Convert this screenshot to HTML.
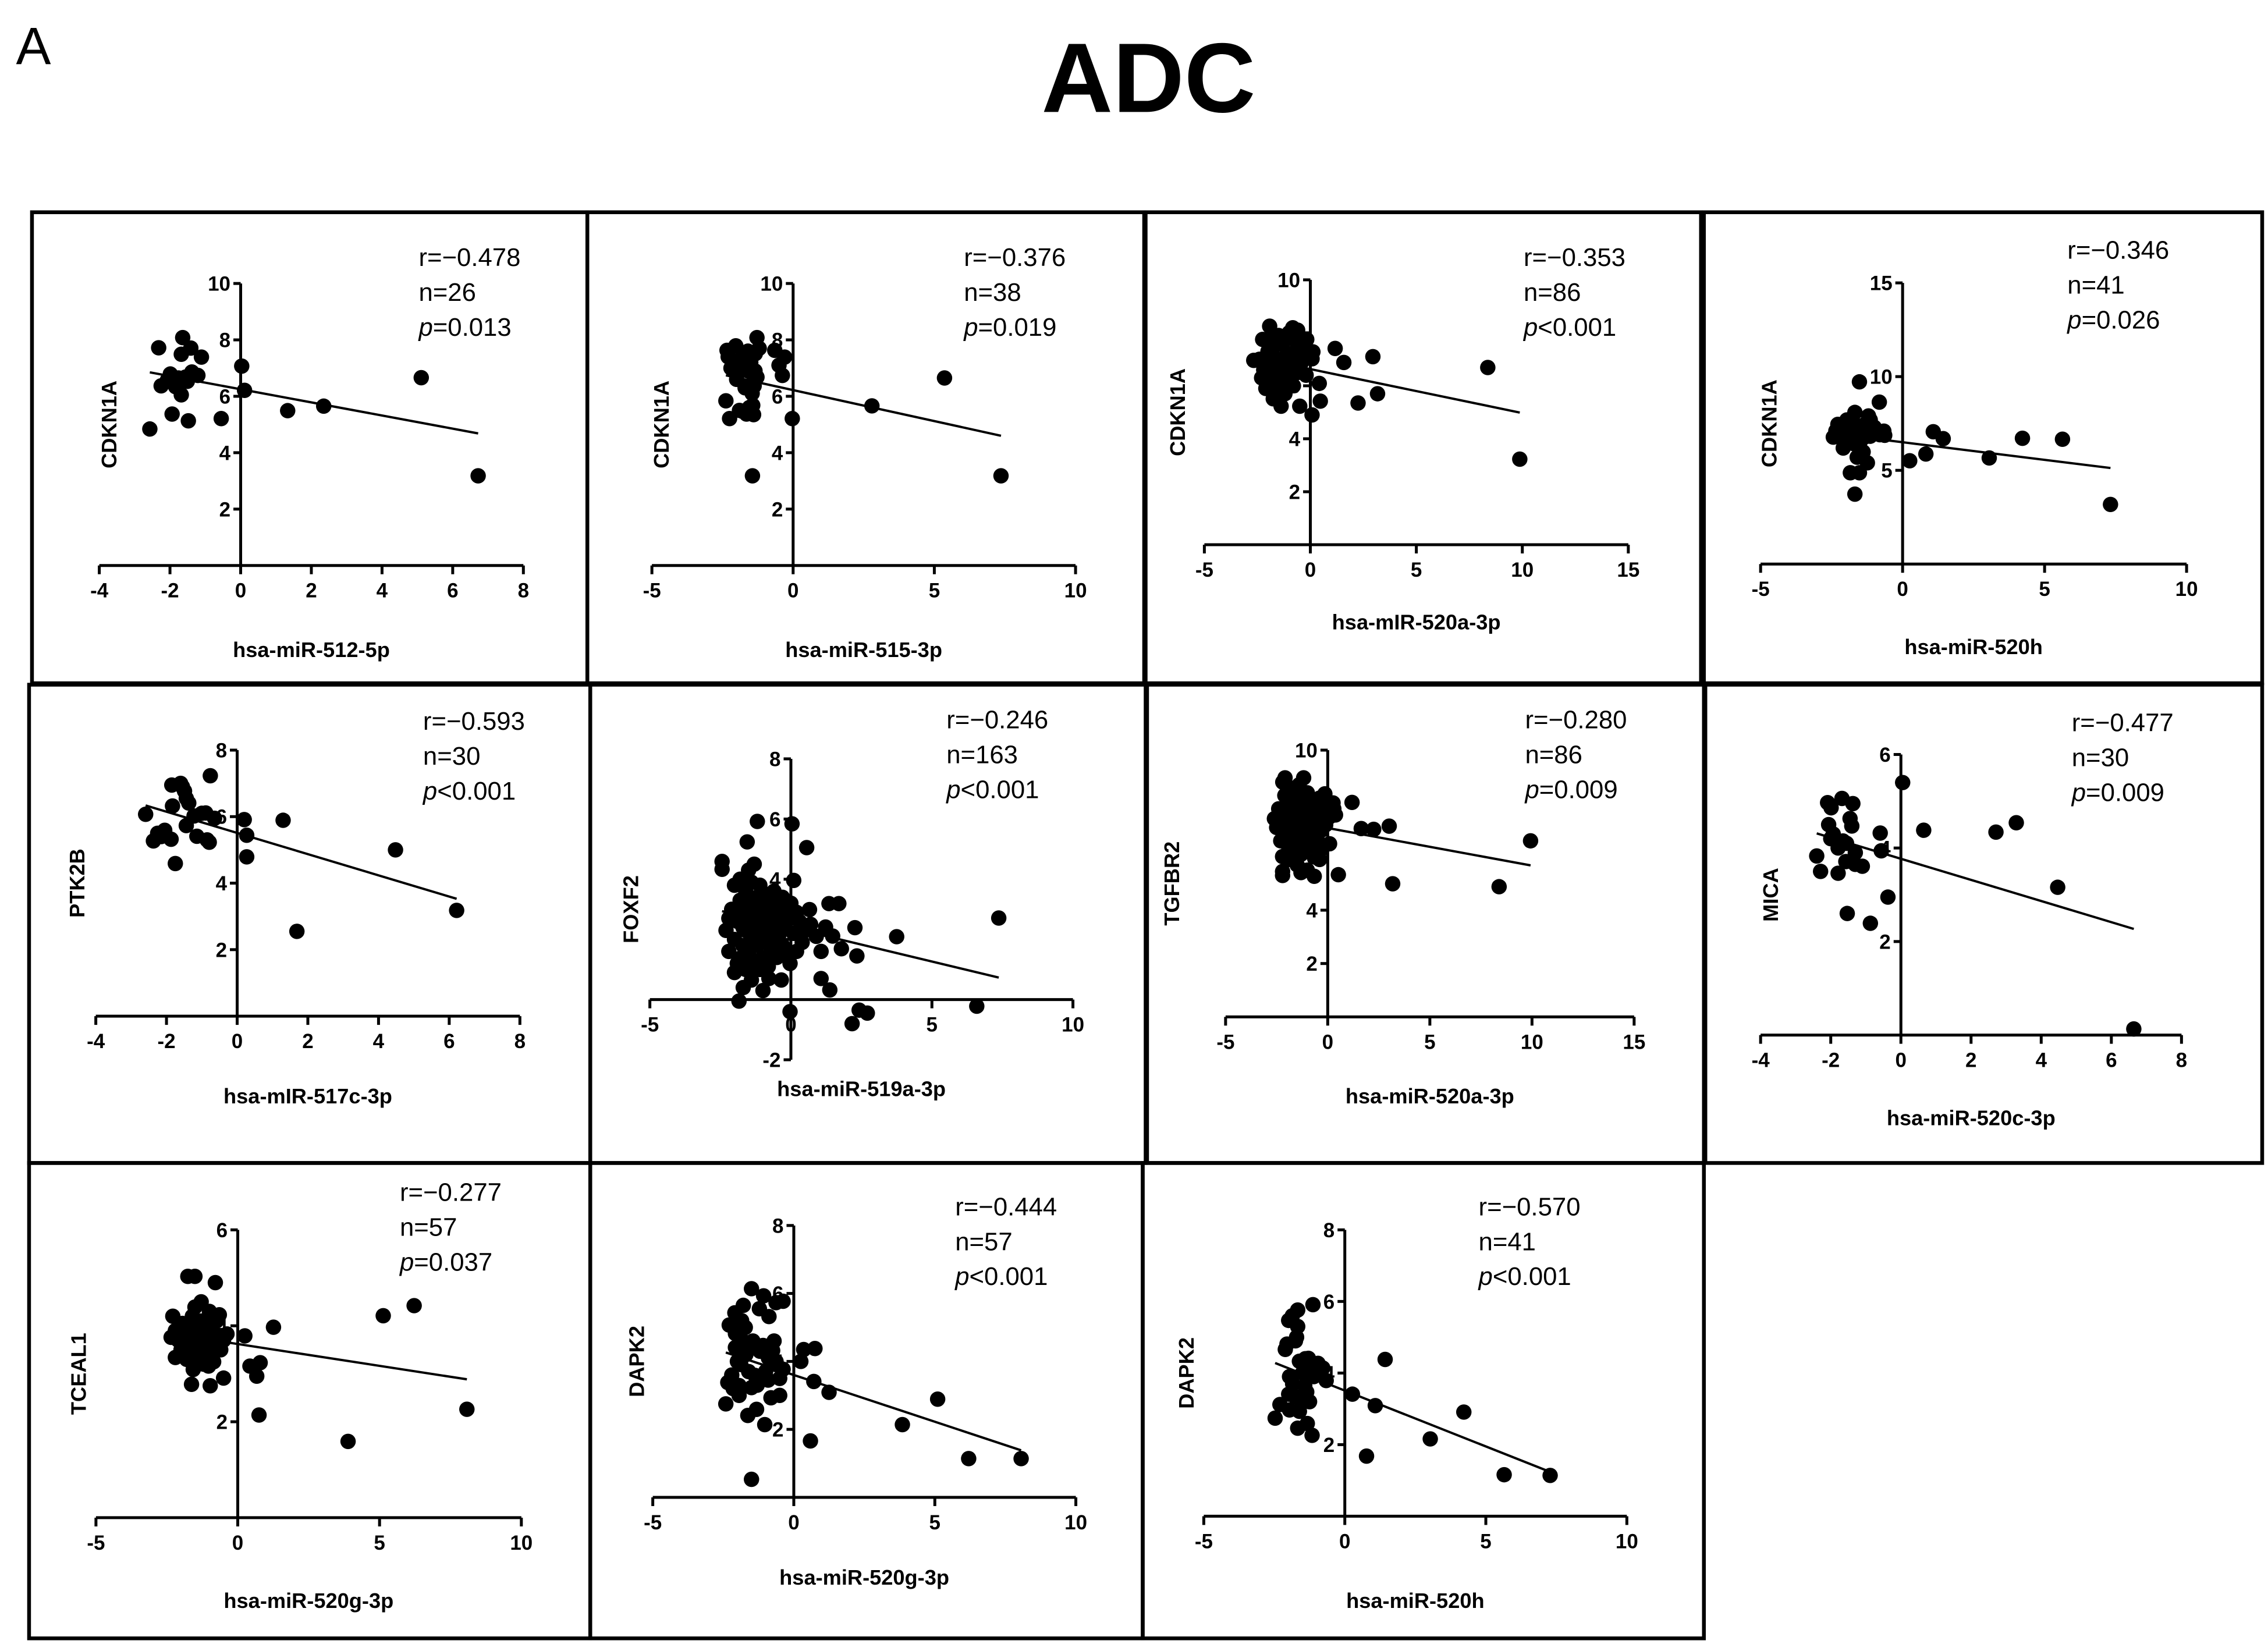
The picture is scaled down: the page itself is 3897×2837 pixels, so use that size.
<!DOCTYPE html>
<html>
<head>
<meta charset="utf-8">
<style>
html,body{margin:0;padding:0;background:#fff;}
svg{display:block;}
text{font-family:"Liberation Sans",Arial,sans-serif;}
.tick{font-weight:bold;font-size:14px;}
.ttl{font-weight:bold;font-size:14.5px;}
.stat{font-size:17.5px;}
</style>
</head>
<body>
<svg id="fig" xmlns="http://www.w3.org/2000/svg" width="3897" height="2837" viewBox="0 0 1560 1135.7" preserveAspectRatio="none">
<rect x="0" y="0" width="1560" height="1135.7" fill="#fff"/>
<text x="11" y="44" font-size="36">A</text>
<text x="790" y="77" font-size="68" font-weight="bold" text-anchor="middle">ADC</text>
<g id="boxes"></g>
<g id="panels"></g>
</svg>
<script>
// ---- data ----
const yLabels = ["CDKN1A","CDKN1A","CDKN1A","CDKN1A","PTK2B","FOXF2","TGFBR2","MICA","TCEAL1","DAPK2","DAPK2"];
const xLabels = ["hsa-miR-512-5p","hsa-miR-515-3p","hsa-mIR-520a-3p","hsa-miR-520h","hsa-mIR-517c-3p","hsa-miR-519a-3p","hsa-miR-520a-3p","hsa-miR-520c-3p","hsa-miR-520g-3p","hsa-miR-520g-3p","hsa-miR-520h"];
const rValues = ["\u22120.478","\u22120.376","\u22120.353","\u22120.346","\u22120.593","\u22120.246","\u22120.280","\u22120.477","\u22120.277","\u22120.444","\u22120.570"];
const nValues = ["26","38","86","41","30","163","86","30","57","57","41"];
const pOps = ["=","=","<","=","<","<","=","=","=","<","<"];
const pValues = ["0.013","0.019","0.001","0.026","0.001","0.001","0.009","0.009","0.037","0.001","0.001"];
const fitSlope = [-0.233,-0.22,-0.166,-0.188,-0.319,-0.225,-0.141,-0.226,-0.091,-0.275,-0.312];
const fitIntercept = [6.25,6.22,6.63,6.5,5.51,2.39,7.08,3.77,3.62,3.6,3.51];
const xTicks = [[-4,-2,0,2,4,6,8],[-5,0,5,10],[-5,0,5,10,15],[-5,0,5,10],[-4,-2,0,2,4,6,8],[-5,0,5,10],[-5,0,5,10,15],[-4,-2,0,2,4,6,8],[-5,0,5,10],[-5,0,5,10],[-5,0,5,10]];
const yTicks = [[2,4,6,8,10],[2,4,6,8,10],[2,4,6,8,10],[5,10,15],[2,4,6,8],[-2,2,4,6,8],[2,4,6,8,10],[2,4,6],[2,4,6],[2,4,6,8],[2,4,6,8]];
const yRange = [[0,10],[0,10],[0,10],[0,15],[0,8],[-2,8],[0,10],[0,6],[0,6],[0,8],[0,8]];

const p1x = [-2.57,-2.32,-1.64,-1.68,-1.41,-1.11,-2.25,-1.99,-1.92,-1.84,-1.68,-1.56,-1.38,-1.21,-1.76,-1.94,-1.48,-0.55,0.03,0.11,1.33,2.35,5.11,6.72,-2.07,-1.51];
const p1y = [4.84,7.72,8.08,7.49,7.71,7.39,6.37,6.79,6.53,6.34,6.05,6.68,6.86,6.74,6.65,5.37,5.13,5.21,7.07,6.21,5.49,5.65,6.66,3.18,6.58,6.53];
const p2x = [-2.34,-2.03,-2.12,-1.78,-1.8,-1.28,-1.34,-0.65,-0.3,-0.38,-1.38,-1.28,-1.38,-2.38,-2.25,-1.8,-1.65,-1.43,-1.4,-0.03,2.79,5.36,7.36,-1.44,-2.2,-1.9,-1.6,-1.5,-1.7,-1.45,-2.0,-1.35,-0.5,-1.9,-2.3,-1.55,-1.2,-1.6];
const p2y = [7.63,7.79,7.26,7.39,6.95,8.08,7.51,7.63,7.39,6.74,6.68,6.68,6.37,5.84,5.21,5.47,5.37,5.68,5.35,5.21,5.66,6.65,3.18,3.18,7.0,7.1,6.9,7.2,6.3,6.1,6.6,6.9,7.1,5.5,7.4,5.6,7.7,7.6];
const p3x = [1.17,1.58,2.95,8.37,2.25,3.17,0.47,-0.5,0.08,9.88,0.42,0.08,0.12,-0.17,-1.92,-0.83,-2.25,-2.67,-1.75,-1.38,-2.4,-2.2,-2.0,-1.9,-1.8,-1.7,-1.6,-1.5,-1.4,-1.3,-1.2,-1.1,-1.0,-0.9,-0.8,-0.7,-0.6,-0.5,-0.4,-0.3,-2.1,-1.7,-1.2,-0.8,-2.3,-1.5,-1.0,-0.6,-1.9,-0.2];
const p3y = [7.41,6.88,7.1,6.69,5.35,5.7,5.42,5.23,4.9,3.23,6.09,7.02,7.28,7.75,8.25,8.19,7.75,6.96,5.51,5.23,7.0,6.6,7.3,6.2,6.9,7.5,6.4,7.0,6.0,7.6,6.7,7.2,6.3,7.8,6.8,7.3,6.5,7.6,6.9,7.2,5.9,5.8,5.7,6.0,6.3,7.9,8.0,8.1,7.7,6.4];
const p4x = [-1.52,-0.82,-2.44,-2.28,-1.96,-1.68,-1.14,-1.84,-2.09,-1.48,-1.14,-0.66,-0.63,-1.39,-1.71,-1.24,-1.84,-1.52,-1.68,1.08,1.43,4.22,5.63,0.25,0.82,3.05,7.32,-2.19,-1.33,-1.61,-2.03,-1.9,-1.5,-2.1,-1.75,-1.3,-1.0,-1.6,-2.35,-1.2,-0.8];
const p4y = [9.72,8.64,6.77,7.45,7.69,8.09,7.69,6.82,6.19,7.22,6.82,7.09,6.87,5.98,6.42,5.4,4.87,4.87,3.73,7.06,6.69,6.71,6.66,5.51,5.87,5.66,3.18,7.22,7.45,6.98,6.58,7.0,6.5,6.9,7.6,6.8,7.3,5.7,7.1,7.9,6.9];
const p5x = [-2.59,-0.76,-1.85,-1.6,-1.49,-1.44,-1.37,-1.83,-1.22,-0.89,-0.64,-1.44,-1.14,-0.79,-2.37,-2.25,-2.05,-1.87,-1.75,0.2,0.27,0.27,1.3,1.69,4.48,6.21,-1.55,-1.0,-2.15,-0.85];
const p5y = [6.07,7.23,6.95,7.0,6.77,6.55,6.41,6.32,6.02,6.11,5.95,5.73,5.41,5.23,5.27,5.5,5.59,5.32,4.59,5.91,5.44,4.79,5.89,2.55,5.0,3.18,6.9,6.1,5.4,5.3];
const p6x = [-1.19,0.04,0.56,-1.55,-2.44,-2.44,0.1,0.66,1.35,1.7,7.37,2.27,3.75,1.23,1.48,1.79,2.34,1.07,1.07,1.38,-0.03,2.17,2.42,2.71,6.59,-0.34,-0.78,-0.99,-1.4,-1.69,-1.84,-0.03,
 -2.3,-2.2,-2.1,-2.0,-2.0,-1.9,-1.9,-1.8,-1.8,-1.7,-1.7,-1.6,-1.6,-1.6,-1.5,-1.5,-1.5,-1.4,-1.4,-1.4,-1.3,-1.3,-1.3,-1.2,-1.2,-1.2,-1.1,-1.1,-1.0,-1.0,-1.0,-0.9,-0.9,-0.8,-0.8,-0.8,-0.7,-0.7,-0.6,-0.6,-0.5,-0.5,-0.4,-0.4,-0.3,-0.3,-0.2,-0.1,-0.1,0.1,0.2,0.3,0.4,0.5,0.7,-2.2,-1.7,-1.45,-1.25,-1.05,-0.95,-1.55,-1.35,-0.65,-1.75,0.0,0.2,0.9,-2.0,-1.1];
const p6y = [5.92,5.84,5.05,5.24,4.59,4.33,3.96,2.99,3.19,3.19,2.71,2.39,2.09,2.41,2.11,1.69,1.45,1.6,0.7,0.32,-0.4,-0.8,-0.35,-0.45,-0.22,0.65,0.7,0.3,0.65,0.4,-0.05,1.2,
 2.3,1.6,3.0,2.0,3.8,1.2,2.6,3.3,4.0,1.8,2.9,1.0,2.3,3.6,4.3,1.5,2.7,3.1,2.0,3.9,1.2,2.5,4.5,3.4,1.8,2.9,2.2,3.8,1.4,2.6,3.1,1.9,3.5,2.4,1.1,2.9,3.3,1.7,2.1,3.6,2.7,1.4,3.0,2.2,1.8,3.4,2.5,1.5,2.9,2.2,1.6,2.6,1.9,2.3,2.5,2.7,2.4,1.7,2.2,2.0,2.8,3.2,2.8,2.6,1.4,3.2,2.9,2.1,0.9,1.0];
const p7x = [1.19,1.64,2.25,3.01,9.93,0.52,3.18,8.39,-2.09,-1.18,-0.14,0.26,0.38,-2.61,-2.21,-2.21,-1.31,-0.66,-2.21,0.09,-0.57,-1.61,
 -2.4,-2.3,-2.2,-2.1,-2.0,-2.0,-1.9,-1.9,-1.8,-1.8,-1.7,-1.7,-1.6,-1.6,-1.5,-1.5,-1.4,-1.4,-1.3,-1.3,-1.2,-1.2,-1.1,-1.1,-1.0,-1.0,-0.9,-0.9,-0.8,-0.8,-0.7,-0.7,-0.6,-0.5,-0.5,-0.4,-0.3,-0.3,-0.2,-0.1,-2.2,-1.5,-1.0,-0.4,-1.85,-1.25,-0.6,-2.5,0.1,0.3];
const p7y = [8.04,7.06,7.03,7.15,6.6,5.33,4.99,4.88,8.96,8.96,8.36,8.02,7.57,7.43,5.45,5.3,5.41,5.27,6.01,6.49,5.98,5.87,
 7.8,6.6,7.2,8.3,7.6,6.9,8.6,6.3,7.3,8.0,6.8,7.7,8.4,6.5,7.1,7.9,6.7,8.7,7.4,6.1,8.1,7.0,6.5,7.7,8.4,6.9,7.3,6.2,8.0,7.6,6.8,7.0,7.9,6.6,7.4,8.2,7.0,6.3,7.7,7.2,8.8,5.7,5.5,5.9,5.9,6.4,6.2,7.1,7.5,7.8];
const p8x = [0.05,-2.09,-1.99,-1.68,-1.37,-2.06,-1.45,-1.4,-1.93,-0.59,0.65,2.71,3.29,-1.55,-1.79,-1.3,-0.56,-2.4,-1.57,-1.3,-1.1,-2.29,-1.79,4.47,-0.37,-1.53,-0.87,6.64,-1.65,-2.0];
const p8y = [5.4,4.97,4.86,5.06,4.95,4.5,4.63,4.47,4.3,4.32,4.38,4.34,4.54,4.1,4.0,3.9,3.94,3.83,3.71,3.65,3.61,3.5,3.46,3.16,2.95,2.6,2.39,0.13,4.15,4.2];
const p9x = [-1.76,-1.51,-0.79,-1.29,-1.51,-2.29,-0.65,5.13,6.22,1.26,0.25,-0.38,-2.35,0.79,0.43,0.67,-0.5,-1.63,-0.97,-1.57,-1.03,0.75,8.08,3.89,-2.2,
 -2.1,-2.0,-1.9,-1.8,-1.8,-1.7,-1.6,-1.5,-1.5,-1.4,-1.3,-1.3,-1.2,-1.1,-1.1,-1.0,-0.9,-0.9,-0.8,-0.7,-0.6,-1.6,-1.95,-1.4,-0.75,-1.2,-2.2,-0.5,-1.0,-1.7,-1.25,-0.85];
const p9y = [5.03,5.03,4.9,4.5,4.39,4.2,4.23,4.21,4.42,3.97,3.79,3.83,3.76,3.23,3.16,2.95,2.91,2.78,2.75,3.09,3.16,2.14,2.26,1.59,3.34,
 3.7,3.5,3.9,3.6,3.3,4.0,3.7,3.4,3.9,3.6,4.1,3.3,3.8,3.5,4.0,3.7,3.4,3.9,3.6,3.8,3.5,4.2,4.05,3.2,4.1,3.2,3.9,3.7,4.3,3.4,3.6,3.25];
const p10x = [-1.5,-1.07,-0.63,-0.38,-1.79,-2.09,-1.22,-0.88,-2.29,-1.72,-2.07,-1.88,-2.07,-1.59,-1.09,-0.75,0.35,0.75,0.25,-1.88,-0.38,-0.63,-1.38,-0.91,-2.34,-1.94,-1.5,0.71,1.25,-0.81,-0.5,-1.94,-2.41,-1.32,-1.63,-1.03,0.59,3.85,5.1,6.2,8.06,-1.5,
 -2.0,-1.7,-1.4,-1.2,-0.9,-0.6,-1.6,-2.2,-1.0,-1.3,-0.7,-1.85,-2.15,-0.5,-1.45];
const p10y = [6.14,5.93,5.73,5.77,5.65,5.43,5.55,5.32,5.07,5.0,4.82,4.68,4.41,4.53,4.47,4.32,4.35,4.38,4.0,3.91,3.77,4.0,3.59,3.45,3.38,3.29,3.23,3.41,3.09,2.93,3.0,3.0,2.75,2.59,2.41,2.14,1.66,2.14,2.89,1.14,1.14,0.53,
 4.0,4.2,4.5,4.3,4.1,3.9,3.7,3.6,3.7,3.3,4.6,5.2,3.2,3.5,4.6];
const p11x = [-1.13,-1.67,-1.86,-1.99,-1.67,-1.71,-2.05,-2.11,-1.61,-1.29,-0.95,-0.78,-1.2,-1.96,-0.66,-1.42,-1.35,-1.99,-1.76,-1.54,-2.3,-1.96,-1.61,-2.47,-1.33,-1.67,-1.16,0.27,1.08,1.43,0.77,3.03,4.22,5.65,7.28,-1.5,-1.85,-1.1,-1.4,-1.75,-1.25];
const p11y = [5.91,5.76,5.6,5.47,5.3,5.0,4.81,4.66,4.33,4.41,4.27,4.14,4.14,3.9,3.79,3.64,3.47,3.41,3.34,3.23,3.12,2.97,2.93,2.74,2.59,2.46,2.26,3.41,3.09,4.38,1.68,2.16,2.91,1.16,1.14,4.0,3.7,3.9,4.4,4.9,3.2];

const seriesX = [p1x,p2x,p3x,p4x,p5x,p6x,p7x,p8x,p9x,p10x,p11x];
const seriesY = [p1y,p2y,p3y,p4y,p5y,p6y,p7y,p8y,p9y,p10y,p11y];

// ---- layout (pixel geometry, display units) ----
const boxes = [[22,146,382,324],[404,146,383,324],[788,146,382,324],[1172,146,384,324],
               [20,471,386,329],[406,471,382,329],[789,471,383,329],[1173,471,383,329],
               [20,800,386,327],[406,800,380,327],[786,800,386,327]];
// [xPixAtMinTick, xPixAtMaxTick, yPixAtMin, yPixAtMax, yTitleX, xTitleY, statX, statY]
const geo = [
 [68.3,360,389,195,75,447,288,177],
 [448.4,739.8,389,195,455,447,663,177],
 [828.4,1120,374.7,192.5,810,428,1048,177],
 [1211,1504,388,194.6,1217,445,1422,172],
 [65.9,357.6,699,516,53,754,291,496],
 [447,738,729,522,434,749,651,495],
 [843,1124,699.5,516,806,754,1049,495],
 [1211,1500.5,712,519,1218,769,1425,497],
 [66,358.6,1044,846,54,1101,275,820],
 [449,740,1030,843,438,1085,657,830],
 [828,1119,1043,846,816,1101,1017,830]
];

const NS = "http://www.w3.org/2000/svg";
function mk(tag, attrs, parent){
  const e = document.createElementNS(NS, tag);
  for (const k in attrs) e.setAttribute(k, attrs[k]);
  parent.appendChild(e);
  return e;
}

const boxG = document.getElementById('boxes');
boxes.forEach((b,i)=>{
  const r = mk('rect',{x:b[0],y:b[1],width:b[2],height:b[3],fill:'none',stroke:'#000','stroke-width':2.6}, boxG);
  
  
});

const panelsG = document.getElementById('panels');
for (let i=0;i<11;i++){
  const g = geo[i];
  const xt = xTicks[i];
  const xmin = xt[0], xmax = xt[xt.length-1];
  const ymin = yRange[i][0], ymax = yRange[i][1];
  const sx = v => g[0] + (v - xmin) * (g[1]-g[0]) / (xmax - xmin);
  const sy = v => g[2] - (v - ymin) * (g[2]-g[3]) / (ymax - ymin);
  const pg = mk('g',{}, panelsG);
  
  

  const axY0 = sy(0);
  const axX0 = sx(0);
  const xa = mk('line',{x1:sx(xmin),x2:sx(xmax),y1:axY0,y2:axY0,stroke:'#000','stroke-width':2}, pg);
  
  
  xt.forEach(t=>{
    mk('line',{x1:sx(t),x2:sx(t),y1:axY0,y2:axY0+6,stroke:'#000','stroke-width':2}, pg);
    const tl = mk('text',{x:sx(t),y:axY0+22,'text-anchor':'middle',class:'tick'}, pg);
    tl.textContent = t;
    
    
  });
  const ya = mk('line',{x1:axX0,x2:axX0,y1:sy(ymin),y2:sy(ymax),stroke:'#000','stroke-width':2}, pg);
  
  
  yTicks[i].forEach(t=>{
    mk('line',{x1:axX0-5,x2:axX0,y1:sy(t),y2:sy(t),stroke:'#000','stroke-width':2}, pg);
    const tl = mk('text',{x:axX0-7,y:sy(t)+5,'text-anchor':'end',class:'tick'}, pg);
    tl.textContent = t;
    
    
  });
  const xtl = mk('text',{x:(sx(xmin)+sx(xmax))/2,y:g[5]+5,'text-anchor':'middle',class:'ttl'}, pg);
  xtl.textContent = xLabels[i];
  
  
  const ymid = (sy(ymin)+sy(ymax))/2;
  const ytl = mk('text',{x:g[4]+5,y:ymid,'text-anchor':'middle',class:'ttl',transform:'rotate(-90 '+(g[4]+5)+' '+ymid+')'}, pg);
  ytl.textContent = yLabels[i];
  
  
  const xs = seriesX[i], ys = seriesY[i];
  for (let k=0;k<xs.length;k++){
    const c = mk('circle',{cx:sx(xs[k]),cy:sy(ys[k]),r:5.3,fill:'#000'}, pg);
    
    
  }
  const lx0 = Math.min(...xs), lx1 = Math.max(...xs);
  const ln = mk('line',{x1:sx(lx0),y1:sy(fitIntercept[i]+fitSlope[i]*lx0),x2:sx(lx1),y2:sy(fitIntercept[i]+fitSlope[i]*lx1),stroke:'#000','stroke-width':1.6}, pg);
  
  
  const s1 = mk('text',{x:g[6],y:g[7]+6,class:'stat'}, pg);
  s1.textContent = 'r=' + rValues[i];
  
  
  const s2 = mk('text',{x:g[6],y:g[7]+30,class:'stat'}, pg);
  s2.textContent = 'n=' + nValues[i];
  
  
  const s3 = mk('text',{x:g[6],y:g[7]+54,class:'stat'}, pg);
  
  
  const ti = mk('tspan',{'font-style':'italic'}, s3);
  ti.textContent = 'p';
  const tr = mk('tspan',{}, s3);
  tr.textContent = pOps[i] + pValues[i];
}
</script>
</body>
</html>
